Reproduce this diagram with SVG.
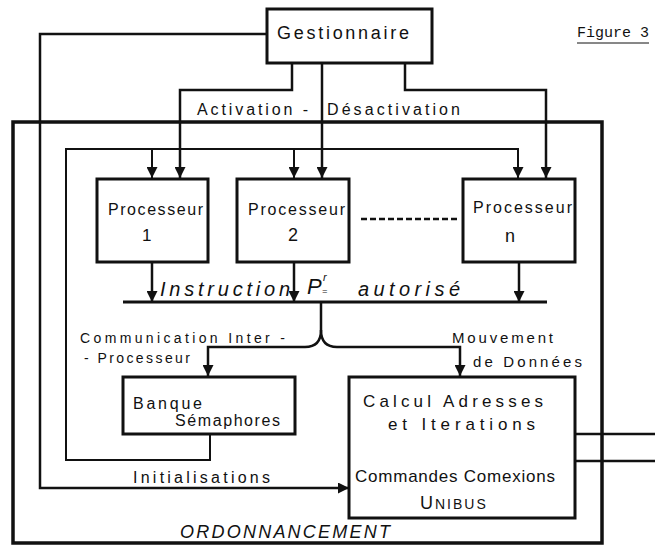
<svg xmlns="http://www.w3.org/2000/svg" width="655" height="548" viewBox="0 0 655 548">
<defs>
<marker id="ah" viewBox="0 0 10 10" refX="10" refY="5" markerWidth="11" markerHeight="11" markerUnits="userSpaceOnUse" orient="auto"><path d="M0,0 L10,5 L0,10 z" fill="#111"/></marker>
</defs>
<style>
.box{fill:none;stroke:#111;stroke-width:3}
.ln{fill:none;stroke:#111;stroke-width:2.5}
.thin{fill:none;stroke:#111;stroke-width:2}
.t{font-family:"Liberation Sans",Arial,sans-serif;fill:#111}
.it{font-family:"Liberation Sans",Arial,sans-serif;font-style:italic;fill:#111}
.mono{font-family:"Liberation Mono","Courier New",monospace;fill:#111}
</style>
<rect width="655" height="548" fill="#fff"/>

<g id="connectors">
  <path class="ln" d="M267,34 H40 V488 H349" marker-end="url(#ah)"/>
  <path class="ln" d="M292,63 V90 H180 V178" marker-end="url(#ah)"/>
  <path class="ln" d="M322,63 V178" marker-end="url(#ah)"/>
  <path class="ln" d="M405,63 V90 H546 V178" marker-end="url(#ah)"/>
  <path class="thin" d="M210,435 V460 H66 V149 H518 V178" marker-end="url(#ah)"/>
  <path class="thin" d="M152,149 V178" marker-end="url(#ah)"/>
  <path class="thin" d="M294,149 V178" marker-end="url(#ah)"/>
  <path class="ln" d="M152,262 V302" marker-end="url(#ah)"/>
  <path class="ln" d="M294,262 V302" marker-end="url(#ah)"/>
  <path class="ln" d="M519,262 V302" marker-end="url(#ah)"/>
  <path class="ln" d="M361,219 H458" stroke-dasharray="6,3"/>
  <path d="M123,302 H547" fill="none" stroke="#111" stroke-width="3"/>
  <path class="ln" d="M321,302 V330 Q321,347 305,347 H208 V376" marker-end="url(#ah)"/>
  <path class="ln" d="M321,330 Q321,347 337,347 H460 V376" marker-end="url(#ah)"/>
  <path class="ln" d="M575,434 H655"/>
  <path class="ln" d="M575,461 H655"/>
</g>

<g id="ordonnancement">
  <rect x="13" y="122" width="589" height="421" fill="none" stroke="#111" stroke-width="3.5"/>
  <text class="it" x="180" y="538" font-size="18" textLength="210" lengthAdjust="spacing">ORDONNANCEMENT</text>
</g>

<g id="gestionnaire">
  <rect class="box" x="267" y="9" width="165" height="54"/>
  <text class="t" x="277" y="39" font-size="18" textLength="132" lengthAdjust="spacing">Gestionnaire</text>
</g>

<g id="figure-label">
  <text class="mono" x="577" y="37" font-size="15">Figure 3</text>
  <path d="M577,43 H649" stroke="#111" stroke-width="1"/>
</g>

<g id="labels">
  <text class="t" x="197" y="115" font-size="16" textLength="111" lengthAdjust="spacing">Activation -</text>
  <text class="t" x="327" y="115" font-size="16" textLength="133" lengthAdjust="spacing">Désactivation</text>
  <text class="it" x="160" y="296" font-size="20" textLength="130" lengthAdjust="spacing">Instruction</text>
  <text class="it" x="307" y="294" font-size="22">P</text>
  <text class="it" x="323" y="281" font-size="11">r</text>
  <text class="it" x="322" y="294" font-size="9">=</text>
  <text class="it" x="358" y="296" font-size="20" textLength="102" lengthAdjust="spacing">autorisé</text>
  <text class="t" x="80" y="343" font-size="14" textLength="205" lengthAdjust="spacing">Communication Inter -</text>
  <text class="t" x="84" y="363" font-size="14" textLength="106" lengthAdjust="spacing">- Processeur</text>
  <text class="t" x="452" y="343" font-size="15" textLength="101" lengthAdjust="spacing">Mouvement</text>
  <text class="t" x="473" y="367" font-size="15" textLength="109" lengthAdjust="spacing">de Données</text>
  <text class="t" x="133" y="483" font-size="16" textLength="137" lengthAdjust="spacing">Initialisations</text>
</g>

<g id="processeur-1">
  <rect class="box" x="97" y="179" width="111" height="83"/>
  <text class="t" x="108" y="215" font-size="16" textLength="95" lengthAdjust="spacing">Processeur</text>
  <text class="t" x="142" y="241" font-size="17">1</text>
</g>

<g id="processeur-2">
  <rect class="box" x="237" y="179" width="112" height="83"/>
  <text class="t" x="248" y="215" font-size="16" textLength="97" lengthAdjust="spacing">Processeur</text>
  <text class="t" x="288" y="241" font-size="18">2</text>
</g>

<g id="processeur-n">
  <rect class="box" x="463" y="179" width="112" height="83"/>
  <text class="t" x="473" y="213" font-size="16" textLength="99" lengthAdjust="spacing">Processeur</text>
  <text class="t" x="505" y="242" font-size="18">n</text>
</g>

<g id="banque-semaphores">
  <rect class="box" x="123" y="377" width="172" height="57"/>
  <text class="t" x="133" y="409" font-size="16" textLength="69" lengthAdjust="spacing">Banque</text>
  <text class="t" x="175" y="426" font-size="16" textLength="105" lengthAdjust="spacing">Sémaphores</text>
</g>

<g id="calcul-adresses">
  <rect class="box" x="349" y="377" width="226" height="141"/>
  <text class="t" x="363" y="407" font-size="17" textLength="180" lengthAdjust="spacing">Calcul  Adresses</text>
  <text class="t" x="388" y="430" font-size="17" textLength="147" lengthAdjust="spacing">et  Iterations</text>
  <text class="t" x="355" y="482" font-size="17" textLength="200" lengthAdjust="spacing">Commandes Comexions</text>
  <text class="t" x="420" y="509"><tspan font-size="18">U</tspan><tspan font-size="14" dx="2" letter-spacing="2">NIBUS</tspan></text>
</g>
</svg>
